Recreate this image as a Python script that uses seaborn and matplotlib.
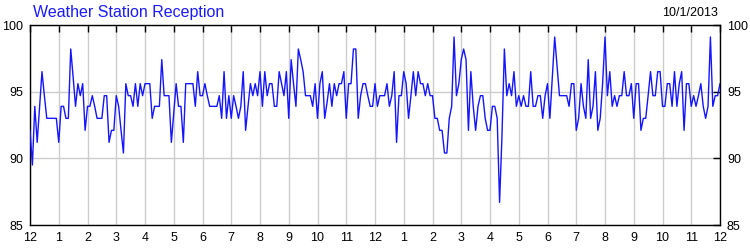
import numpy as np
import pandas as pd
import matplotlib
matplotlib.use("Agg")
import matplotlib.pyplot as plt
import seaborn as sns

# ---- data ----
title = "Weather Station Reception"
date_label = "10/1/2013"
sample_minutes = 5  # one reading every 5 minutes, midnight to midnight

reception = [
    92.1, 89.5, 93.9, 91.2, 93.9, 96.5, 94.7, 93.0, 93.0, 93.0, 93.0, 93.0,
    91.2, 93.9, 93.9, 93.0, 93.0, 98.2, 96.1, 93.9, 95.6, 94.7, 95.6, 92.1,
    93.9, 93.9, 94.7, 93.9, 93.0, 93.0, 93.0, 94.7, 94.7, 91.2, 92.1, 92.1,
    94.7, 93.9, 92.1, 90.4, 95.6, 94.7, 94.7, 93.9, 95.6, 93.9, 95.6, 94.7,
    95.6, 95.6, 95.6, 93.0, 93.9, 93.9, 93.9, 97.4, 94.7, 94.7, 94.7, 91.2,
    93.4, 95.6, 93.9, 93.9, 91.2, 95.6, 95.6, 95.6, 95.6, 93.9, 96.5, 94.7,
    94.7, 95.6, 94.7, 93.9, 93.9, 93.9, 93.9, 94.7, 93.0, 96.5, 93.0, 94.7,
    93.0, 94.7, 93.9, 93.0, 93.9, 96.5, 92.1, 93.9, 95.6, 94.7, 95.6, 94.7,
    96.5, 93.9, 96.5, 94.7, 95.6, 95.6, 93.9, 93.9, 96.5, 95.6, 94.7, 96.5,
    93.0, 97.4, 95.6, 93.9, 98.2, 97.4, 96.5, 94.7, 94.7, 94.7, 93.9, 95.6,
    93.0, 95.6, 96.5, 93.0, 94.2, 95.6, 93.9, 95.6, 94.7, 95.6, 95.6, 96.5,
    93.0, 95.6, 95.6, 98.2, 98.2, 93.0, 94.7, 95.6, 95.6, 94.7, 93.9, 93.9,
    95.6, 93.9, 94.7, 94.7, 94.7, 95.6, 93.9, 94.7, 96.5, 91.2, 94.7, 94.7,
    96.5, 95.6, 93.0, 94.7, 96.5, 94.7, 96.5, 95.6, 95.6, 94.7, 95.6, 94.7,
    94.7, 93.0, 93.0, 92.1, 92.1, 90.4, 90.4, 93.0, 93.9, 99.1, 94.7, 95.6,
    97.4, 98.2, 97.4, 92.1, 96.5, 93.9, 92.1, 93.9, 94.7, 94.7, 93.0, 92.1,
    92.1, 93.9, 93.9, 93.0, 86.7, 91.7, 98.2, 94.7, 95.6, 94.7, 96.5, 93.9,
    94.7, 93.9, 94.7, 93.9, 93.9, 96.5, 93.9, 93.9, 94.7, 94.7, 93.0, 94.7,
    95.6, 93.0, 96.1, 99.1, 96.9, 94.7, 94.7, 94.7, 94.7, 93.9, 95.6, 95.6,
    92.1, 93.0, 95.6, 93.9, 93.0, 97.4, 93.0, 93.9, 96.5, 92.1, 93.0, 95.6,
    99.1, 94.7, 96.5, 93.9, 94.7, 93.9, 94.7, 94.7, 96.5, 94.7, 94.7, 95.6,
    93.0, 95.6, 95.6, 92.1, 93.0, 93.0, 94.7, 96.5, 94.7, 94.7, 96.5, 96.5,
    93.9, 93.9, 95.6, 95.6, 93.9, 96.5, 93.9, 95.6, 96.5, 92.1, 95.6, 95.6,
    93.9, 94.7, 93.9, 94.7, 95.6, 93.9, 93.0, 93.9, 99.1, 93.9, 94.7, 94.7,
    95.6,
]

hour_labels = ["12", "1", "2", "3", "4", "5", "6", "7", "8", "9", "10", "11",
               "12", "1", "2", "3", "4", "5", "6", "7", "8", "9", "10", "11", "12"]
y_ticks = [85, 90, 95, 100]

# ---- style ----
sns.set_style("white")
plt.rcParams["font.family"] = ["Liberation Sans", "DejaVu Sans"]

df = pd.DataFrame({
    "hour": np.arange(len(reception)) * sample_minutes / 60.0,
    "reception": reception,
})

fig = plt.figure(figsize=(7.5, 2.5), dpi=100)
ax = fig.add_axes([30 / 750, 25 / 250, 690 / 750, 200 / 250])

sns.lineplot(data=df, x="hour", y="reception", ax=ax, color="#1414ff",
             linewidth=1.0, zorder=3)

ax.set_xlim(0, 24)
ax.set_ylim(85, 100)
ax.set_xticks(range(len(hour_labels)))
ax.set_xticklabels(hour_labels)
ax.set_yticks(y_ticks)
ax.set_xlabel("")
ax.set_ylabel("")

ax.set_axisbelow(True)
ax.grid(True, color="#cccccc", linewidth=1.0)
for s in ax.spines.values():
    s.set_color("black")
    s.set_linewidth(1.0)
    s.set_visible(True)

ax.tick_params(axis="both", direction="in", length=5, width=1, color="black",
               labelsize=9, labelcolor="black", top=True, right=True,
               labelright=True, pad=5)

fig.text(33 / 750, 1 - 12 / 250, title, color="#1a1aff", fontsize=11.5,
         ha="left", va="center")
fig.text(718 / 750, 1 - 13 / 250, date_label, color="black", fontsize=9,
         ha="right", va="center")

fig.savefig("out.png", dpi=100, facecolor="white")
